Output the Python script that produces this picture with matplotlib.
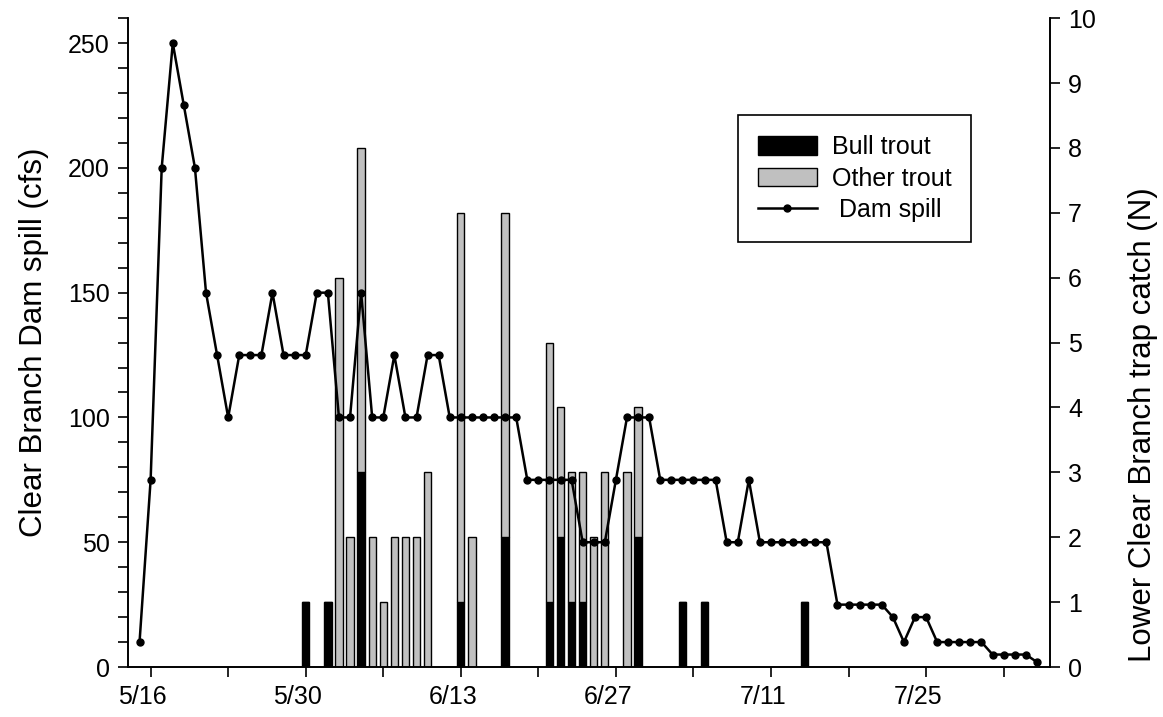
import matplotlib
matplotlib.use('Agg')
import matplotlib.pyplot as plt
import matplotlib.dates as mdates
from matplotlib.ticker import FixedLocator, FixedFormatter, MultipleLocator
from matplotlib.transforms import ScaledTranslation
import pandas as pd

plt.rcParams['font.family'] = ['Liberation Sans', 'DejaVu Sans']

# daily dam spill (cfs), 5/15 through 8/4
spill_start = '2008-05-15'
spill_cfs = [10, 75, 200, 250, 225, 200, 150, 125, 100, 125,
             125, 125, 150, 125, 125, 125, 150, 150, 100, 100,
             150, 100, 100, 125, 100, 100, 125, 125, 100, 100,
             100, 100, 100, 100, 100, 75, 75, 75, 75, 75,
             50, 50, 50, 75, 100, 100, 100, 75, 75, 75,
             75, 75, 75, 50, 50, 75, 50, 50, 50, 50,
             50, 50, 50, 25, 25, 25, 25, 25, 20, 10,
             20, 20, 10, 10, 10, 10, 10, 5, 5, 5,
             5, 2]

# trap catch by day
catch_days = ['2008-05-30', '2008-06-01', '2008-06-02', '2008-06-03', '2008-06-04',
              '2008-06-05', '2008-06-06', '2008-06-07', '2008-06-08', '2008-06-09',
              '2008-06-10', '2008-06-13', '2008-06-14', '2008-06-17', '2008-06-21',
              '2008-06-22', '2008-06-23', '2008-06-24', '2008-06-25', '2008-06-26',
              '2008-06-28', '2008-06-29', '2008-07-03', '2008-07-05', '2008-07-14']
bull_trout = [1, 1, 0, 0, 3, 0, 0, 0, 0, 0, 0, 1, 0, 2, 1, 2, 1, 1, 0, 0, 0, 2, 1, 1, 1]
other_trout = [0, 0, 6, 2, 5, 2, 1, 2, 2, 2, 3, 6, 2, 5, 4, 2, 2, 2, 2, 3, 3, 2, 0, 0, 0]

tick_days = ['2008-05-16', '2008-05-30', '2008-06-13', '2008-06-27', '2008-07-11', '2008-07-25']
tick_labels = ['5/16', '5/30', '6/13', '6/27', '7/11', '7/25']
minor_days = ['2008-05-23', '2008-06-06', '2008-06-20', '2008-07-04', '2008-07-18', '2008-08-01']

spill_dates = pd.date_range(spill_start, periods=len(spill_cfs), freq='D')
catch_dates = pd.to_datetime(catch_days)

fig = plt.figure(figsize=(11.63, 7.17), dpi=100)
ax = fig.add_axes([0.110, 0.0697, 0.793, 0.905])

ax.bar(catch_dates, bull_trout, width=0.66, color='black', edgecolor='black',
       linewidth=1, label='Bull trout')
ax.bar(catch_dates, other_trout, bottom=bull_trout, width=0.66, color='#c0c0c0',
       edgecolor='black', linewidth=1, label='Other trout')

ax2 = ax.twinx()
ax2.plot(spill_dates, spill_cfs, '-o', color='black', linewidth=1.8,
         markersize=5, label=' Dam spill')

# catch axis on the right, spill axis on the left
ax.yaxis.tick_right()
ax.yaxis.set_label_position('right')
ax2.yaxis.tick_left()
ax2.yaxis.set_label_position('left')

ax.set_xlim(pd.Timestamp('2008-05-13 22:50'), pd.Timestamp('2008-08-05 04:50'))
ax.set_ylim(0, 10)
ax2.set_ylim(0, 260)

ax.xaxis.set_major_locator(FixedLocator(mdates.date2num(pd.to_datetime(tick_days))))
ax.xaxis.set_major_formatter(FixedFormatter(tick_labels))
ax.xaxis.set_minor_locator(FixedLocator(mdates.date2num(pd.to_datetime(minor_days))))
ax.yaxis.set_major_locator(MultipleLocator(1))
ax2.yaxis.set_major_locator(MultipleLocator(50))
ax2.yaxis.set_minor_locator(MultipleLocator(10))

for a in (ax, ax2):
    a.spines['top'].set_visible(False)
    for s in ('left', 'right', 'bottom'):
        a.spines[s].set_linewidth(1.2)
    a.tick_params(which='major', direction='out', length=7, width=1.2,
                  labelsize=18, pad=6)
    a.tick_params(which='minor', direction='out', length=7, width=1.2)
ax.tick_params(axis='x', pad=6)

for lbl in ax.get_xticklabels():
    lbl.set_transform(lbl.get_transform() + ScaledTranslation(-0.08, 0, fig.dpi_scale_trans))

ax2.set_ylabel('Clear Branch Dam spill (cfs)', fontsize=22.5, labelpad=14)
ax.set_ylabel('Lower Clear Branch trap catch (N)', fontsize=22.5)
ax.yaxis.set_label_coords(1.0846, 0.373)

handles = ax.get_legend_handles_labels()[0] + ax2.get_legend_handles_labels()[0]
labels = ax.get_legend_handles_labels()[1] + ax2.get_legend_handles_labels()[1]
leg = ax2.legend(handles, labels, loc='upper left', bbox_to_anchor=(0.6616, 0.8505),
                 borderaxespad=0, fontsize=18, frameon=True, fancybox=False,
                 framealpha=1, edgecolor='black', handlelength=2.35, handleheight=0.75,
                 handletextpad=0.6, labelspacing=0.3, borderpad=0.8)
leg.get_frame().set_linewidth(1.2)

fig.savefig('out.png', dpi=100)
